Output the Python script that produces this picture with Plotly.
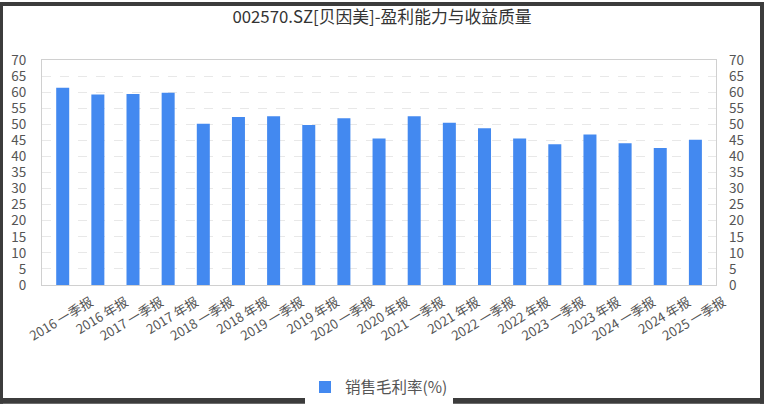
import plotly.graph_objects as go

categories = ["2016 一季报", "2016 年报", "2017 一季报", "2017 年报", "2018 一季报", "2018 年报",
              "2019 一季报", "2019 年报", "2020 一季报", "2020 年报", "2021 一季报", "2021 年报",
              "2022 一季报", "2022 年报", "2023 一季报", "2023 年报", "2024 一季报", "2024 年报",
              "2025 一季报"]
gross_margin = [61.4, 59.3, 59.4, 59.8, 50.2, 52.3, 52.5, 49.8, 51.9, 45.6,
                52.5, 50.5, 48.8, 45.6, 43.8, 46.8, 44.1, 42.6, 45.2]
series_name = "销售毛利率(%)"
title_text = "002570.SZ[贝因美]-盈利能力与收益质量"
tick_vals = list(range(0, 75, 5))

W, H = 764, 416
ml, mr, mt, mb = 42, 48, 60, 123
pw = W - ml - mr
ph = H - mt - mb

fig = go.Figure()
fig.add_trace(go.Bar(x=categories, y=gross_margin, name=series_name,
                     marker=dict(color="#4389F0", line=dict(width=0)), yaxis="y"))
fig.add_trace(go.Scatter(x=categories, y=gross_margin, yaxis="y2", mode="lines",
                         line=dict(width=0), showlegend=False, hoverinfo="skip", opacity=0))

font_family = "Noto Sans CJK SC, Noto Sans, sans-serif"
axis_font = dict(family=font_family, size=13.5, color="#555555")
x_font = dict(family=font_family, size=13, color="#555555")

fig.update_layout(
    width=W, height=H,
    margin=dict(l=ml, r=mr, t=mt, b=mb),
    paper_bgcolor="white", plot_bgcolor="white",
    title=dict(text=title_text, x=0.5, xanchor="center", y=1 - 17.5 / H, yanchor="middle",
               font=dict(family=font_family, size=16.8, color="#333333")),
    bargap=0.63,
    showlegend=True,
    legend=dict(orientation="h", x=0.5, xanchor="center", y=(H - mb - 399) / ph,
                yanchor="middle", font=dict(family=font_family, size=15.5, color="#555555"),
                itemsizing="constant"),
    xaxis=dict(range=[-0.589, 18.586], tickangle=-31, tickfont=x_font, showgrid=False,
               showline=True, linecolor="#d0d0d0", linewidth=1, mirror=True, ticks="",
               automargin=False, ticklabelshift=28, ticklabelstandoff=4),
    yaxis=dict(range=[0, 70], tickvals=tick_vals, tickfont=axis_font, showgrid=True,
               gridcolor="#e8e8e8", griddash="dash", showline=True, linecolor="#d0d0d0",
               mirror=True, zeroline=False, ticks="", automargin=False,
               ticklabelstandoff=12),
    yaxis2=dict(range=[0, 70], tickvals=tick_vals, tickfont=axis_font, overlaying="y",
                side="right", showgrid=False, showline=False, zeroline=False, ticks="",
                automargin=False, ticklabelstandoff=12),
)

# dark outer frame of the screenshot (pixel boxes converted to paper coordinates)
def px_x(v):
    return (v - ml) / pw

def px_y(v):
    return (H - mb - v) / ph

frame = "#3c3c3c"
for (xa, xb, ya, yb) in [(0, W, 0, 4), (0, 3, 0, H), (W - 4, W, 0, H), (0, W, H - 6, H)]:
    fig.add_shape(type="rect", xref="paper", yref="paper",
                  x0=px_x(xa), x1=px_x(xb), y0=px_y(yb), y1=px_y(ya),
                  line=dict(width=0), fillcolor=frame, layer="above")

post = ("var s=document.documentElement.style;s.margin='0';s.padding='0';s.overflow='hidden';"
        "var b=document.body.style;b.margin='0';b.padding='0';b.overflow='hidden';")
fig.write_html("out.html", config={"displayModeBar": False}, post_script=post)
